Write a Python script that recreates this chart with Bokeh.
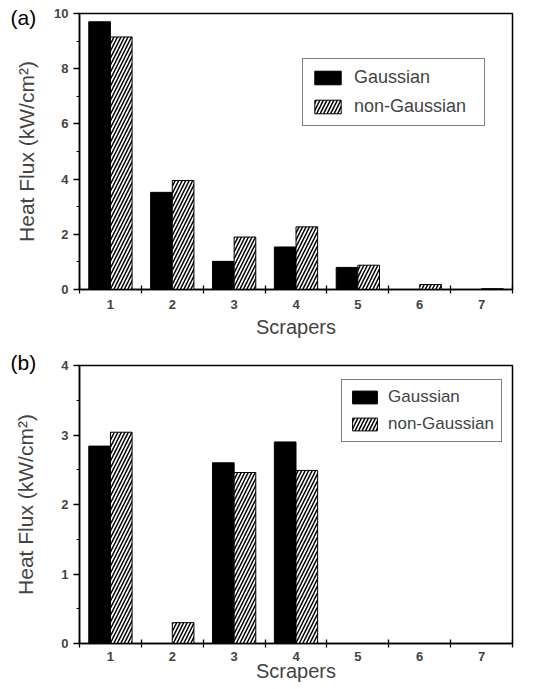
from bokeh.plotting import figure
from bokeh.models import (ColumnDataSource, FixedTicker, SingleIntervalTicker, Range1d,
                          Legend, LegendItem, Title)
from bokeh.layouts import column
from bokeh.embed import file_html
from bokeh.resources import INLINE

# ---- data ----
scrapers = [1, 2, 3, 4, 5, 6, 7]
scraper_labels = ["1", "2", "3", "4", "5", "6", "7"]
gauss_a = [9.70, 3.52, 1.02, 1.54, 0.80, 0.0, 0.0]
nongauss_a = [9.15, 3.95, 1.90, 2.27, 0.88, 0.18, 0.03]
gauss_b = [2.84, 0.0, 2.60, 2.90, 0.0, 0.0, 0.0]
nongauss_b = [3.04, 0.30, 2.46, 2.49, 0.0, 0.0, 0.0]

FONT = "Liberation Sans"
W = 542


def make_panel(tag, g, ng, ymax, ystep, height, borders, legend_loc, leg_font,
               glyph_w, glyph_h, leg_spacing, leg_pad, leg_standoff, leg_label_w,
               ylab_standoff, xlab_standoff, xtick_standoff, tag_standoff):
    top, bottom = borders
    p = figure(width=W, height=height, output_backend="svg", toolbar_location=None,
               x_range=Range1d(0.5, 7.5), y_range=Range1d(0, ymax),
               min_border_left=79, min_border_right=30,
               min_border_top=top, min_border_bottom=bottom)
    p.grid.visible = False
    p.outline_line_color = "black"
    p.outline_line_width = 1.5
    p.background_fill_color = "white"
    p.border_fill_color = "white"

    bw = 0.35
    src = ColumnDataSource(dict(
        xg=[s - bw / 2 for s in scrapers],
        xn=[s + bw / 2 for s in scrapers],
        g=g, ng=ng))
    rg = p.vbar(x="xg", top="g", bottom=0, width=bw, source=src,
                fill_color="black", line_color="black", line_width=1)
    rn = p.vbar(x="xn", top="ng", bottom=0, width=bw, source=src,
                fill_color="white", line_color="black", line_width=1,
                hatch_pattern="/", hatch_color="black", hatch_weight=1.5,
                hatch_scale=7)

    # x axis: labels at centres, ticks at category boundaries
    xa = p.xaxis[0]
    xa.ticker = FixedTicker(ticks=scrapers,
                            minor_ticks=[s - 0.5 for s in scrapers] + [7.5])
    xa.major_label_overrides = {s: l for s, l in zip(scrapers, scraper_labels)}
    xa.major_tick_line_color = None
    xa.major_tick_out = 4
    xa.major_tick_in = 0
    xa.minor_tick_in = 4
    xa.minor_tick_out = 4
    xa.minor_tick_line_width = 1.3
    xa.axis_label = "Scrapers"
    xa.axis_label_text_font = FONT
    xa.axis_label_text_font_size = "20px"
    xa.axis_label_text_font_style = "normal"
    xa.axis_label_standoff = xlab_standoff
    xa.major_label_text_font = FONT
    xa.major_label_text_font_size = "13px"
    xa.major_label_text_font_style = "bold"
    xa.major_label_standoff = xtick_standoff
    xa.axis_line_width = 1.5

    ya = p.yaxis[0]
    ya.ticker = SingleIntervalTicker(interval=ystep, num_minor_ticks=2)
    ya.major_tick_out = 6
    ya.major_tick_in = 0
    ya.minor_tick_out = 3
    ya.minor_tick_in = 0
    ya.major_tick_line_width = 1.3
    ya.minor_tick_line_width = 1.1
    ya.axis_label = "Heat Flux (kW/cm²)"
    ya.axis_label_text_font = FONT
    ya.axis_label_text_font_size = "21px"
    ya.axis_label_text_font_style = "normal"
    ya.axis_label_standoff = ylab_standoff
    ya.major_label_text_font = FONT
    ya.major_label_text_font_size = "13px"
    ya.major_label_text_font_style = "bold"
    ya.major_label_standoff = 5
    ya.axis_line_width = 1.5

    leg = Legend(items=[LegendItem(label="Gaussian", renderers=[rg]),
                        LegendItem(label="non-Gaussian", renderers=[rn])],
                 location=legend_loc)
    leg.border_line_color = "black"
    leg.border_line_width = 1.2
    leg.background_fill_alpha = 1
    leg.label_text_font = FONT
    leg.label_text_font_size = leg_font
    leg.glyph_width = glyph_w
    leg.glyph_height = glyph_h
    leg.label_height = glyph_h
    leg.label_width = leg_label_w
    leg.spacing = leg_spacing
    leg.padding = leg_pad
    leg.margin = 0
    leg.label_standoff = leg_standoff
    p.add_layout(leg, "center")

    p.add_layout(Title(text=tag, align="left", offset=-69, standoff=tag_standoff,
                       text_font=FONT, text_font_size="21px", text_font_style="normal",
                       text_color="black", vertical_align="bottom"), "above")
    return p


pa = make_panel("(a)", gauss_a, nongauss_a, 10, 2, 340, (13, 47), (223, 163), "18px",
                33, 17, 8, 8, 10, 122, 13, 4, 6, -30)
pb = make_panel("(b)", gauss_b, nongauss_b, 4, 1, 349, (25, 46), (262, 201), "17px",
                31, 16, 7, 7, 8, 100, 21, -4, 4, -16)

layout = column(pa, pb, spacing=0)
open("out.html", "w").write(file_html(layout, INLINE))
